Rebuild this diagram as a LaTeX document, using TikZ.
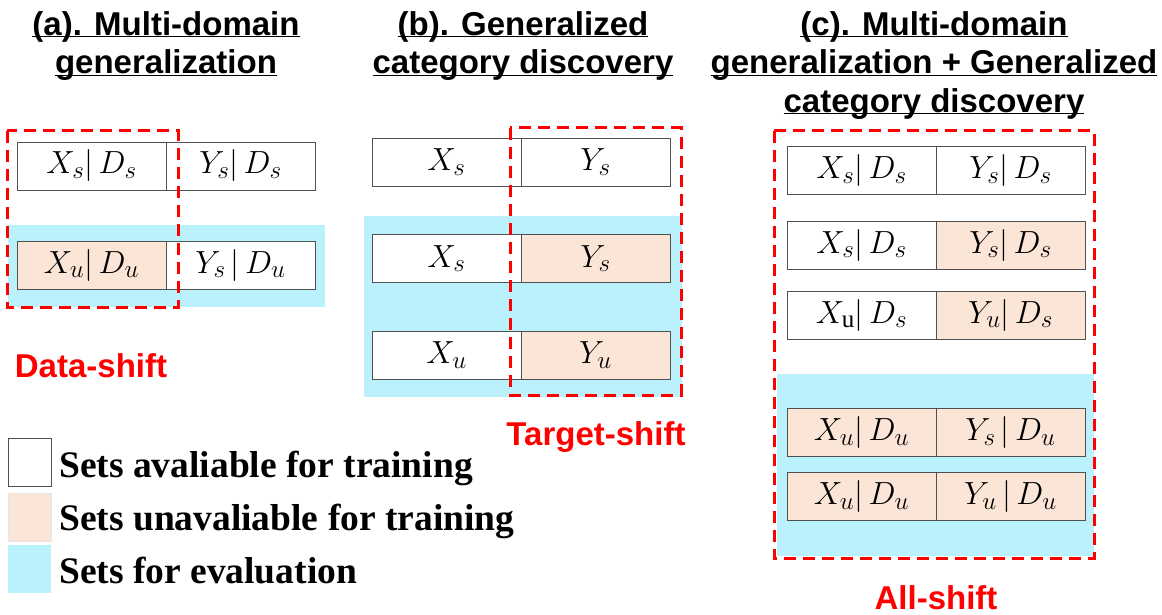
\documentclass[tikz,border=0pt]{standalone}
\usepackage{fix-cm}
\usepackage{fontspec}
\setmainfont{Liberation Serif}
\newfontfamily\hdfont{Liberation Sans}
\usepackage{tikz}
\usetikzlibrary{positioning}
\definecolor{setpeach}{HTML}{FBE5D6}
\definecolor{evalblue}{HTML}{BBF1FC}
\definecolor{shiftred}{HTML}{FF0000}
\definecolor{edgegrey}{HTML}{505050}
\DeclareMathSizes{32}{32}{25}{20}
\newcommand{\hd}[1]{\underline{\smash{#1}}}

\begin{document}
\begin{tikzpicture}[x=1pt, y=-1pt,
  cell/.style={draw=edgegrey, line width=0.9pt, fill=white, outer sep=0pt, inner sep=0pt,
    minimum width=149pt, minimum height=48pt, font=\fontsize{32}{36}\selectfont},
  title/.style={font=\hdfont\bfseries\fontsize{33}{38.5}\selectfont, align=center,
    anchor=north, inner sep=0pt},
  shiftlabel/.style={font=\hdfont\bfseries\fontsize{33}{38}\selectfont, text=shiftred,
    anchor=base, inner sep=0pt},
  shiftbox/.style={draw=shiftred, line width=3pt, dash pattern=on 12pt off 7pt},
  legbox/.style={minimum width=43pt, minimum height=48pt, inner sep=0pt, outer sep=0pt},
  legtext/.style={font=\bfseries\fontsize{37.5}{40}\selectfont, anchor=base west, inner sep=0pt}]
  \useasboundingbox (0,0) rectangle (1162,615);

  % (a) multi-domain generalization
  \node[title] (ta) at (166,35) {\hd{(a). Multi-domain}\\\hd{generalization}};
  \fill[evalblue] (8,225) rectangle (325,307);
  \node[cell] (a1x) at (91.5,166) {$X_s|\,D_s$};
  \node[cell, right=0pt of a1x] (a1y) {$Y_s|\,D_s$};
  \node[cell, fill=setpeach] (a2x) at (91.5,265) {$X_u|\,D_u$};
  \node[cell, right=0pt of a2x] (a2y) {$Y_s\,|\,D_u$};
  \draw[shiftbox] (7,131) rectangle (178,307);
  \node[shiftlabel] (sa) at (91,377) {Data-shift};

  % (b) generalized category discovery
  \node[title] (tb) at (523,35) {\hd{(b). Generalized}\\\hd{category discovery}};
  \fill[evalblue] (364,216) rectangle (682,397);
  \foreach \row/\yy/\fy/\lx/\ly in {1/162/white/X_s/Y_s, 2/258.5/setpeach/X_s/Y_s,
      3/355/setpeach/X_u/Y_u} {
    \node[cell] (b\row x) at (446.5,\yy) {$\lx$};
    \node[cell, fill=\fy, right=0pt of b\row x] (b\row y) {$\ly$};
  }
  \draw[shiftbox] (510,128) rectangle (681,395);
  \node[shiftlabel] (sb) at (596,445) {Target-shift};

  % (c) both settings together
  \node[title] (tc) at (934,35)
    {\hd{(c). Multi-domain}\\\hd{generalization + Generalized}\\\hd{category discovery}};
  \fill[evalblue] (777,374) rectangle (1094,556);
  \foreach \row/\yy/\fx/\fy/\lx/\ly in {
      1/170.5/white/white/{X_s|\,D_s}/{Y_s|\,D_s},
      2/245/white/setpeach/{X_s|\,D_s}/{Y_s|\,D_s},
      3/315/white/setpeach/{X_{\mathrm{u}}|\,D_s}/{Y_u|\,D_s},
      4/432.5/setpeach/setpeach/{X_u|\,D_u}/{Y_s\,|\,D_u},
      5/496.5/setpeach/setpeach/{X_u|\,D_u}/{Y_u\,|\,D_u}} {
    \node[cell, fill=\fx] (c\row x) at (861.5,\yy) {$\lx$};
    \node[cell, fill=\fy, right=0pt of c\row x] (c\row y) {$\ly$};
  }
  \draw[shiftbox] (774,131) rectangle (1094,558);
  \node[shiftlabel] (sc) at (936,609) {All-shift};

  % legend
  \node[legbox, draw=edgegrey, line width=0.9pt, fill=white] (k1) at (29.5,462.5) {};
  \node[legbox, draw=black!10, fill=setpeach] (k2) at (29.5,517.5) {};
  \node[legbox, fill=evalblue] (k3) at (29.5,569) {};
  \node[legtext] (l1) at (59,477) {Sets avaliable for training};
  \node[legtext] (l2) at (59,530) {Sets unavaliable for training};
  \node[legtext] (l3) at (59,583) {Sets for evaluation};
\end{tikzpicture}
\end{document}
